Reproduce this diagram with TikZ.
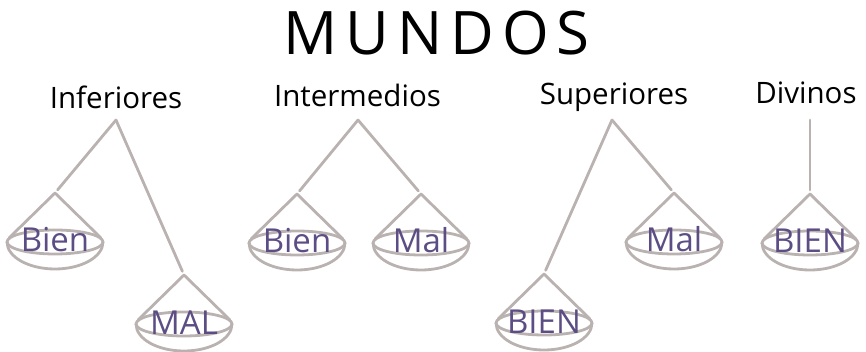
\documentclass[tikz,border=0pt]{standalone}
\usepackage{fontspec}
\setmainfont{Open Sans}
\definecolor{lncol}{RGB}{186,178,176}
\definecolor{txtcol}{RGB}{92,78,132}
\tikzset{
  ln/.style={draw=lncol, line width=2.8pt, line cap=round, line join=round},
  arm/.style={ln, shorten >=4pt},
  lbl/.style={anchor=base, inner sep=0pt, font=\fontsize{29.5}{30}\selectfont, text=black},
  pantext/.style={anchor=base, inner sep=0pt, font=\fontsize{33}{33}\selectfont, text=txtcol},
  pics/pan/.style={code={
    \draw[ln] (0,0) ellipse [x radius=48pt, y radius=12pt];
    \draw[ln] (-48,0) arc[start angle=180, end angle=360, x radius=48pt, y radius=27pt];
    \draw[ln] (-46,-4) -- (0,-49) -- (46,-4);
    \coordinate (-top) at (0,-49);
    \node[pantext] (-t) at (0,10) {#1};
  }}
}
\begin{document}
\begin{tikzpicture}[x=1pt, y=-1pt]
\useasboundingbox (0,0) rectangle (866,352);
% title
\node[anchor=base, inner sep=0pt, font=\fontsize{60}{60}\selectfont] (title) at (436.5,55)
  {M\kern8pt U\kern8pt N\kern8pt D\kern8pt O\kern8pt S};
% labels
\node[lbl] (inf) at (116,109) {Inferiores};
\node[lbl] (int) at (357.5,107) {Intermedios};
\node[lbl] (sup) at (614,105) {Superiores};
\node[lbl] (div) at (806,104) {Divinos};
% apexes
\coordinate (infA) at (116,120);
\coordinate (intA) at (358,120);
\coordinate (supA) at (612,120);
\coordinate (divA) at (810,120);
% pans
\pic (infB) at (55,242) {pan=Bien};
\pic (infM) at (184,324) {pan=MAL};
\pic (intB) at (297,243) {pan=Bien};
\pic (intM) at (421,243) {pan=Mal};
\pic (supM) at (674,242) {pan=Mal};
\pic (supB) at (544,323) {pan=BIEN};
\pic (divB) at (810,243) {pan=BIEN};
% arms
\draw[arm] (infA) -- (infB-top);
\draw[arm] (infA) -- (infM-top);
\draw[arm] (intA) -- (intB-top);
\draw[arm] (intA) -- (intM-top);
\draw[arm] (supA) -- (supB-top);
\draw[arm] (supA) -- (supM-top);
\draw[arm] (divA) -- (divB-top);
\end{tikzpicture}
\end{document}
